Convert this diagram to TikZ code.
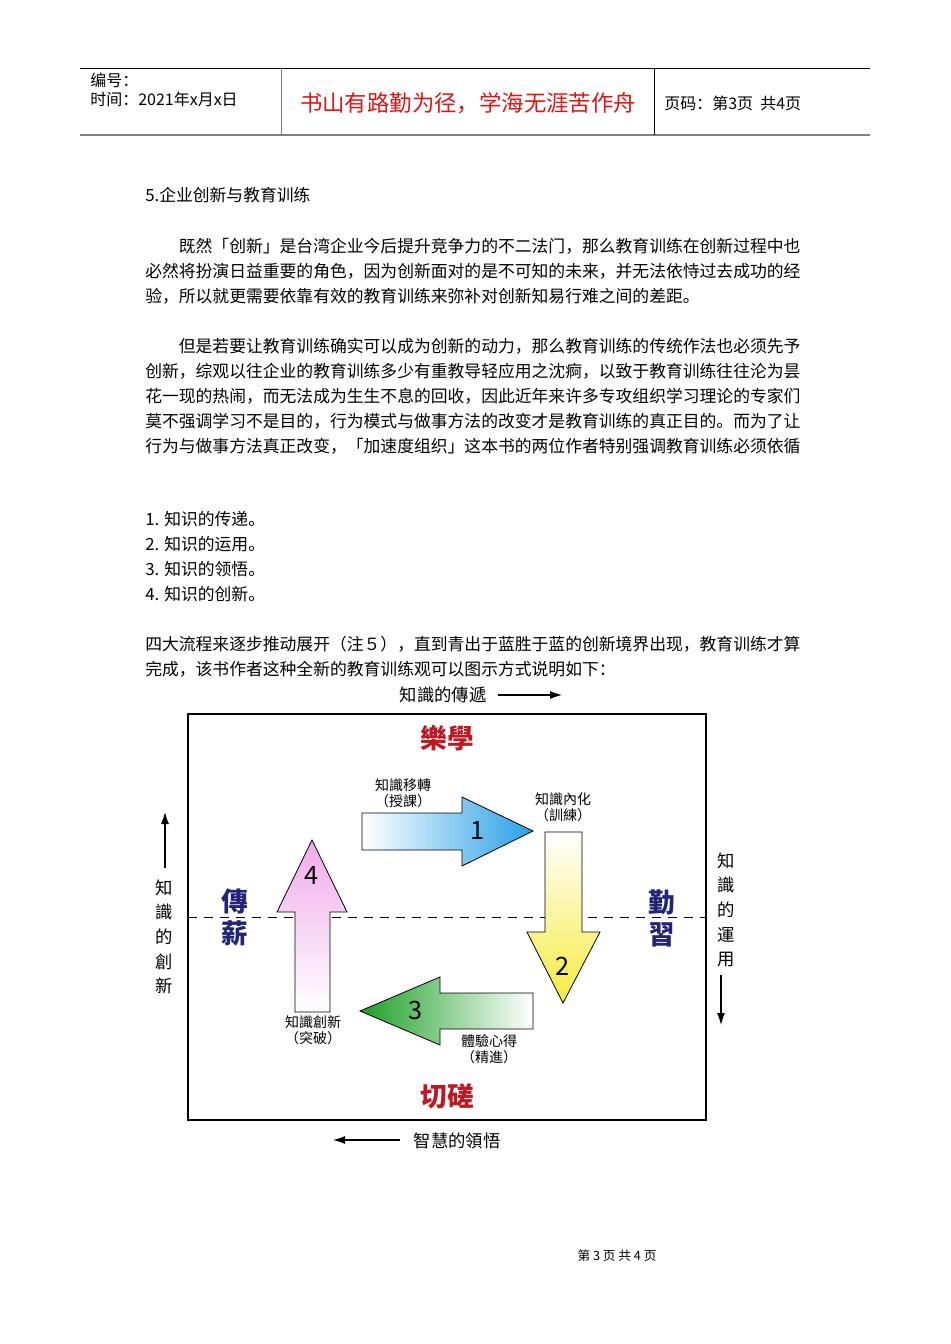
\documentclass[tikz,border=0pt]{standalone}
\usepackage{fontspec}
\setmainfont{Noto Sans CJK SC}
\XeTeXlinebreaklocale "zh"
\XeTeXlinebreakskip=0pt plus 2pt
\usetikzlibrary{arrows.meta}
\definecolor{ttl}{RGB}{225,20,20}
\definecolor{dred}{RGB}{190,25,35}
\definecolor{dblue}{RGB}{35,35,120}
\tikzset{
 body/.style={anchor=west,inner sep=0pt,font=\fontsize{12.6pt}{13pt}\selectfont},
 jbody/.style={anchor=west,inner sep=0pt,font=\fontsize{12.6pt}{13pt}\selectfont},
 hdr/.style={anchor=west,inner sep=0pt,font=\fontsize{12pt}{13pt}\selectfont},
 lbl/.style={inner sep=0pt,font=\fontsize{10.5pt}{12pt}\selectfont,align=center},
 big/.style={inner sep=0pt,font=\bfseries\fontsize{20pt}{24pt}\selectfont,align=center},
 ax/.style={inner sep=0pt,font=\fontsize{13pt}{18.5pt}\selectfont,align=center},
 num/.style={inner sep=0pt,font=\fontsize{19pt}{20pt}\selectfont},
 axarr/.style={-{Latex[length=9pt,width=6pt]},line width=0.8pt},
 arrbox/.style={draw=black,line width=0.6pt}
}
\newcommand{\jl}[1]{#1}
\begin{document}
\begin{tikzpicture}[x=0.75pt,y=-0.75pt]
\useasboundingbox (0,0) rectangle (950,1344);
% header
\draw[line width=0.6pt] (80,68) -- (870,68);
\draw[line width=1.2pt,gray] (80,135) -- (870,135);
\draw[line width=0.6pt,gray] (281,68) -- (281,135);
\draw[line width=0.6pt] (654,68) -- (654,135);
\node[hdr] (h1) at (90,80) {编号：};
\node[hdr] (h2) at (90,99) {时间：2021年x月x日};
\node[inner sep=0pt,text=ttl,font=\fontsize{16.8pt}{18pt}\selectfont] (h3) at (468,103) {书山有路勤为径，学海无涯苦作舟};
\node[hdr] (h4) at (664,103) {页码：第3页\ \ 共4页};
% body
\node[body] (b0) at (145,195) {5.企业创新与教育训练};
\node[jbody] (b1) at (145,246) {\jl{\hspace{2em}既然「创新」是台湾企业今后提升竞争力的不二法门，那么教育训练在创新过程中也}};
\node[jbody] (b2) at (145,271) {\jl{必然将扮演日益重要的角色，因为创新面对的是不可知的未来，并无法依恃过去成功的经}};
\node[body] (b3) at (145,296) {验，所以就更需要依靠有效的教育训练来弥补对创新知易行难之间的差距。};
\node[jbody] (b4) at (145,346) {\jl{\hspace{2em}但是若要让教育训练确实可以成为创新的动力，那么教育训练的传统作法也必须先予}};
\node[jbody] (b5) at (145,371) {\jl{创新，综观以往企业的教育训练多少有重教导轻应用之沈痾，以致于教育训练往往沦为昙}};
\node[jbody] (b6) at (145,396) {\jl{花一现的热闹，而无法成为生生不息的回收，因此近年来许多专攻组织学习理论的专家们}};
\node[jbody] (b7) at (145,421) {\jl{莫不强调学习不是目的，行为模式与做事方法的改变才是教育训练的真正目的。而为了让}};
\node[jbody] (b8) at (145,446) {\jl{行为与做事方法真正改变，「加速度组织」这本书的两位作者特别强调教育训练必须依循}};
\node[body] (l1) at (145,519) {1. 知识的传递。};
\node[body] (l2) at (145,544) {2. 知识的运用。};
\node[body] (l3) at (145,569) {3. 知识的领悟。};
\node[body] (l4) at (145,594) {4. 知识的创新。};
\node[jbody] (c1) at (145,644) {\jl{四大流程来逐步推动展开（注５），直到青出于蓝胜于蓝的创新境界出现，教育训练才算}};
\node[body] (c2) at (145,669) {完成，该书作者这种全新的教育训练观可以图示方式说明如下：};
% diagram frame
\draw[line width=2.2pt] (188,714) rectangle (706,1120);
\draw[line width=0.7pt,dash pattern=on 7pt off 5pt] (188,917) -- (706,917);
% axis labels
\node[ax] (tt) at (443,695) {知識的傳遞};
\coordinate (tta) at (498,695); \coordinate (ttb) at (562,695);
\draw[axarr] (tta) -- (ttb);
\node[ax] (bt) at (457,1141) {智慧的領悟};
\coordinate (bta) at (400,1140); \coordinate (btb) at (333,1140);
\draw[axarr] (bta) -- (btb);
\node[ax,text width=1em] (lt) at (162,937) {知\\識\\的\\創\\新};
\coordinate (lta) at (165,868); \coordinate (ltb) at (165,812);
\draw[axarr] (lta) -- (ltb);
\node[ax,text width=1em] (rt) at (724,910) {知\\識\\的\\運\\用};
\coordinate (rta) at (721,975); \coordinate (rtb) at (721,1025);
\draw[axarr] (rta) -- (rtb);
\node[big,text=dred] (lx) at (447,738) {樂學};
\node[big,text=dred] (qc) at (447,1096) {切磋};
\node[big,text=dblue,text width=1.3em] (cx) at (230,918) {傳\\薪};
\node[big,text=dblue,text width=1.3em] (qx) at (657,918) {勤\\習};
% arrow 1
\shade[left color=white,right color={rgb,255:red,40;green,160;blue,230},arrbox]
 (362,813) -- (462,813) -- (462,797) -- (533,831) -- (462,866) -- (462,850) -- (362,850) -- cycle;
% arrow 2
\shade[top color=white,bottom color={rgb,255:red,245;green,235;blue,60},arrbox]
 (545,832) -- (582,832) -- (582,932) -- (600,932) -- (563,1003) -- (527,932) -- (545,932) -- cycle;
% arrow 3
\shade[left color={rgb,255:red,30;green,160;blue,40},right color=white,arrbox]
 (533,993) -- (440,993) -- (440,977) -- (360,1011) -- (440,1045) -- (440,1029) -- (533,1029) -- cycle;
% arrow 4
\shade[top color={rgb,255:red,240;green,170;blue,235},bottom color=white,arrbox]
 (295,1012) -- (295,912) -- (277,912) -- (312,840) -- (347,912) -- (330,912) -- (330,1012) -- cycle;
\node[num] (n1) at (478,830) {1};
\node[num] (n2) at (563,966) {2};
\node[num] (n3) at (416,1010) {3};
\node[num] (n4) at (312,875) {4};
\node[lbl] (a1) at (403,793) {知識移轉\\（授課）};
\node[lbl] (a2) at (563,807) {知識內化\\（訓練）};
\node[lbl] (a3) at (313,1030) {知識創新\\（突破）};
\node[lbl] (a4) at (489,1049) {體驗心得\\（精進）};
% footer
\node[inner sep=0pt,font=\fontsize{9.5pt}{11pt}\selectfont] (ft) at (617,1256) {第 3 页 共 4 页};
\end{tikzpicture}
\end{document}
